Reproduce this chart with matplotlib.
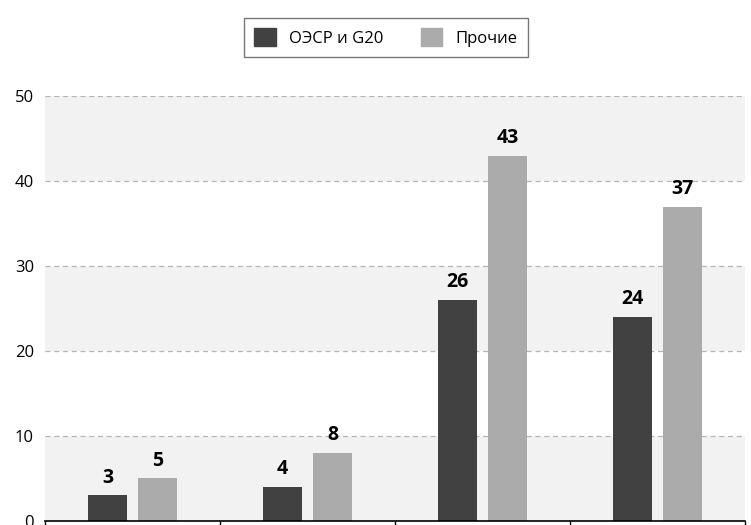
import numpy as np
import matplotlib.pyplot as plt
from matplotlib.patches import Patch

plt.rcParams['font.family'] = ['Open Sans', 'DejaVu Sans']

# данные
categories = ['', '', '', '']
oecd_g20 = [3, 4, 26, 24]
others = [5, 8, 43, 37]
series_names = ['ОЭСР и G20', 'Прочие']
colors = ['#414141', '#ababab']

fig = plt.figure(figsize=(7.51, 5.25), dpi=100)
ax = fig.add_axes([0.06, 0.008, 0.932, 0.809])

x = np.arange(len(categories))
w = 0.22
off = 0.142

# чередующиеся полосы фона
for lo in range(0, 50, 20):
    ax.axhspan(lo, lo + 10, color='#f2f2f2', zorder=0, lw=0)

for yv in range(10, 51, 10):
    ax.axhline(yv, color='#b5b5b5', lw=0.9, ls=(0, (4, 3)), zorder=1)

b1 = ax.bar(x - off, oecd_g20, w, color=colors[0], zorder=2)
b2 = ax.bar(x + off, others, w, color=colors[1], zorder=2)

for bars in (b1, b2):
    for b in bars:
        ax.text(b.get_x() + b.get_width() / 2, b.get_height() + 0.9,
                f'{int(b.get_height())}', ha='center', va='bottom',
                fontsize=14, fontweight='bold')

ax.set_xlim(-0.5, 3.5)
ax.set_ylim(0, 50)
ax.set_yticks(range(0, 51, 10))
ax.tick_params(axis='y', length=0, labelsize=12, pad=8)
ax.set_xticks([-0.5, 0.5, 1.5, 2.5, 3.5])
ax.set_xticklabels([])
ax.tick_params(axis='x', length=8, width=1)
for s in ['top', 'right', 'left']:
    ax.spines[s].set_visible(False)
ax.spines['bottom'].set_linewidth(1.2)

handles = [Patch(color=c) for c in colors]
fig.legend(handles, series_names, loc='center', bbox_to_anchor=(0.514, 0.929),
           ncol=2, frameon=True, fancybox=False, edgecolor='#555555',
           fontsize=12, handlelength=1.3, handleheight=1.3, columnspacing=2.2,
           borderpad=0.6)

fig.savefig('out.png', dpi=100)
